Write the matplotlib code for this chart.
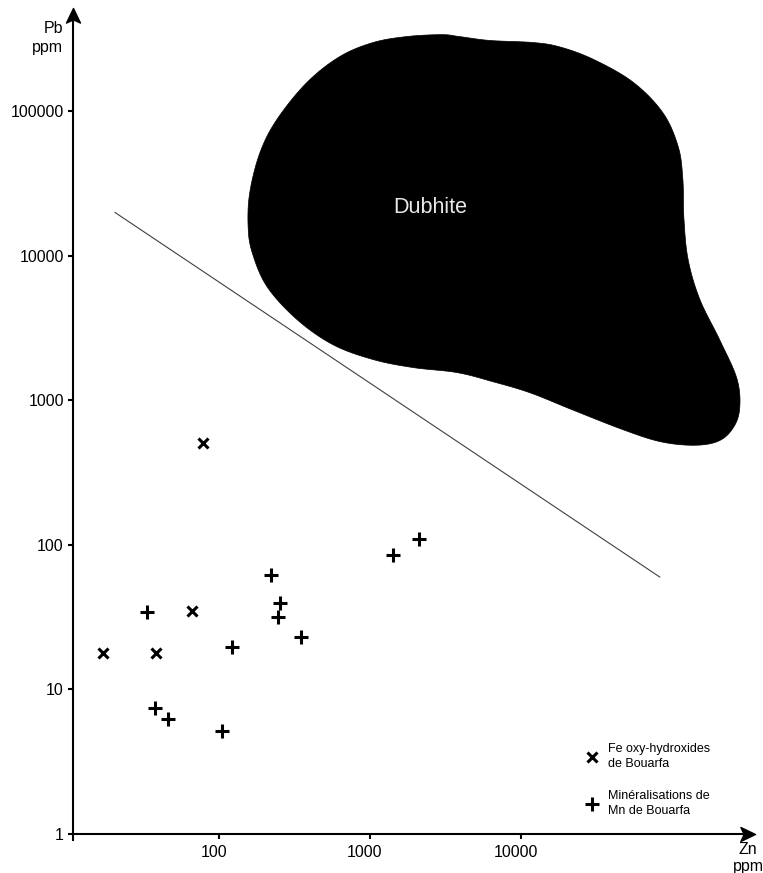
import numpy as np
import matplotlib
matplotlib.use("Agg")
import matplotlib.pyplot as plt
from matplotlib.patches import Polygon
from matplotlib.path import Path
from matplotlib.transforms import ScaledTranslation

plt.rcParams['font.family'] = ['Liberation Sans', 'DejaVu Sans']

# Fe oxy-hydroxides de Bouarfa (x markers), Zn and Pb in ppm
fe_zn = [78, 66, 17, 38]
fe_pb = [508, 35, 18, 18]

# Mineralisations de Mn de Bouarfa (+ markers)
mn_zn = [33.5, 221, 254, 247, 348, 122, 37.7, 46, 105, 1410, 2110]
mn_pb = [34.6, 61.5, 39.6, 31.7, 23.2, 19.6, 7.4, 6.2, 5.2, 85.5, 110]

# separation line
boundary_zn = [20.5, 83000]
boundary_pb = [20000, 60]

# outline of the Dubhite field
dubhite_zn = [3000, 3900, 6200, 12000, 18000, 30000, 55000, 87000, 110000, 118000,
              120000, 128000, 153000, 208000, 270000, 280000, 250000, 200000, 138000,
              83000, 47000, 22000, 11500, 6500, 3770, 1930, 1050, 570, 329, 208,
              166, 156, 160, 187, 242, 383, 632, 1050, 1760]
dubhite_pb = [340000, 330000, 310000, 300000, 280000, 230000, 160000, 98000, 57000, 34000,
              18000, 9400, 5000, 2600, 1400, 860, 630, 520, 490,
              520, 630, 860, 1130, 1350, 1560, 1690, 1920, 2430, 3630, 6140,
              10560, 16000, 27500, 52000, 88000, 159000, 240000, 300000, 330000]

x_ticks = [100, 1000, 10000]
y_ticks = [1, 10, 100, 1000, 10000, 100000]


def smooth_closed(xs, ys, n=20):
    # periodic Catmull-Rom through the outline, done in log space
    p = np.column_stack([np.log10(xs), np.log10(ys)])
    m = len(p)
    t = np.linspace(0, 1, n, endpoint=False)[:, None]
    out = []
    for i in range(m):
        p0, p1, p2, p3 = p[i - 1], p[i], p[(i + 1) % m], p[(i + 2) % m]
        out.append(0.5 * (2 * p1 + (-p0 + p2) * t
                          + (2 * p0 - 5 * p1 + 4 * p2 - p3) * t ** 2
                          + (-p0 + 3 * p1 - 3 * p2 + p3) * t ** 3))
    out = np.vstack(out)
    return 10 ** out[:, 0], 10 ** out[:, 1]


def head(angle):
    # stealth-like arrow head with its tip at the origin
    verts = np.array([(0, 0), (-0.48, -1), (0, -0.78), (0.48, -1), (0, 0)])
    c, s = np.cos(angle), np.sin(angle)
    verts = verts @ np.array([[c, s], [-s, c]])
    return Path(verts, [Path.MOVETO, Path.LINETO, Path.LINETO, Path.LINETO, Path.CLOSEPOLY])


W, H = 763, 873
fig = plt.figure(figsize=(W / 100, H / 100), dpi=100)
ax = fig.add_axes([73 / W, (H - 834) / H, (755 - 73) / W, (834 - 8) / H])
ax.set_xscale('log')
ax.set_yscale('log')
ax.set_xlim(10.8, 3.546e5)
ax.set_ylim(1, 5.2e5)

# Dubhite field
bx, by = smooth_closed(dubhite_zn, dubhite_pb)
ax.add_patch(Polygon(np.column_stack([bx, by]), closed=True, facecolor='black',
                     edgecolor='black', lw=0.5))
ax.text(2500, 21600, 'Dubhite', color='#e8e8e8', fontsize=15.5, ha='center', va='center')

ax.plot(boundary_zn, boundary_pb, color='#404040', lw=0.8)

ax.plot(fe_zn, fe_pb, linestyle='none', marker='x', ms=7, mew=2.2, color='black',
        label='Fe oxy-hydroxides\nde Bouarfa')
ax.plot(mn_zn, mn_pb, linestyle='none', marker='+', ms=10, mew=2.2, color='black',
        label='Minéralisations de\nMn de Bouarfa')

# axes drawn by hand with arrow heads
for s in ['top', 'right', 'left', 'bottom']:
    ax.spines[s].set_visible(False)
ax.plot([0, 0], [-0.008, 0.985], transform=ax.transAxes, color='black', lw=1.5,
        clip_on=False, solid_capstyle='butt')
ax.plot([0, 0.985], [0, 0], transform=ax.transAxes, color='black', lw=1.5,
        clip_on=False, solid_capstyle='butt')
ax.plot([0], [1], marker=head(0), ms=21, color='black', transform=ax.transAxes,
        clip_on=False)
ax.plot([1], [0], marker=head(-np.pi / 2), ms=21, color='black', transform=ax.transAxes,
        clip_on=False)

ax.set_xticks(x_ticks, [str(v) for v in x_ticks])
ax.set_yticks(y_ticks, [str(v) for v in y_ticks])
ax.minorticks_off()
ax.tick_params(direction='out', length=3.6, width=1.5, labelsize=11.5, pad=3)
ax.tick_params(axis='x', pad=4.5)
shift = ScaledTranslation(-5 / 100, 0, fig.dpi_scale_trans)
for lbl in ax.get_xticklabels():
    lbl.set_transform(lbl.get_transform() + shift)

fig.text(63 / W, 1 - 38 / H, 'Pb\nppm', ha='right', va='center', fontsize=11.5,
         linespacing=1.4)
fig.text(748 / W, 1 - 858 / H, 'Zn\nppm', ha='center', va='center', fontsize=11.5,
         linespacing=1.25)

leg = ax.legend(loc='upper left', bbox_to_anchor=(584 / W, 1 - 743 / H),
                bbox_transform=fig.transFigure, frameon=False, fontsize=9,
                handlelength=1.2, handletextpad=0.75, labelspacing=1.6,
                borderpad=0, borderaxespad=0)
for t in leg.get_texts():
    t.set_linespacing(1.35)

fig.savefig('out.png', dpi=100)
